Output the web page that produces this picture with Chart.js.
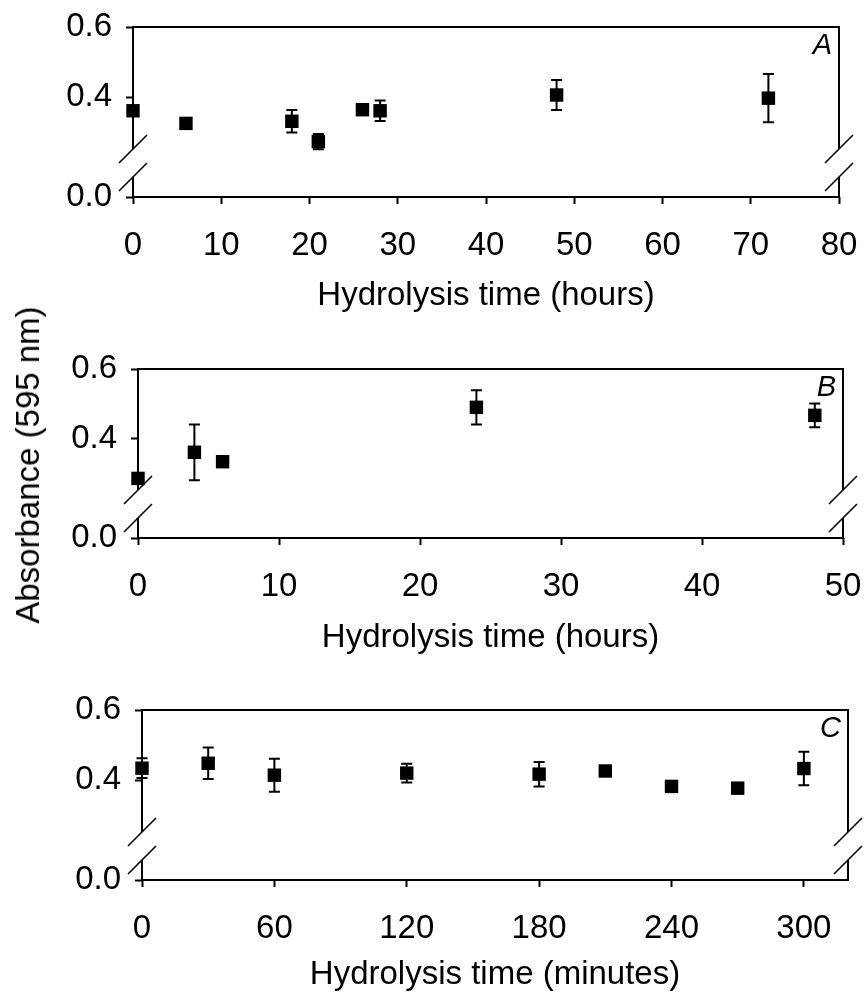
<!DOCTYPE html>
<html>
<head>
<meta charset="utf-8">
<script src="https://cdn.jsdelivr.net/npm/chart.js@4"></script>
<style>
  body { margin: 0; background: #fff; }
  #page { position: relative; width: 868px; height: 1001px; }
  canvas { position: absolute; left: 0; }
  #yTitle {
    position: absolute; left: 28px; top: 465px;
    transform: translate(-50%, -50%) rotate(-90deg);
    font: 33px 'Liberation Sans', Arial, sans-serif; white-space: nowrap; color: #000;
  }
</style>
</head>
<body>
<div id="page">
  <canvas id="chartA" width="868" height="330" style="top:0"></canvas>
  <canvas id="chartB" width="868" height="345" style="top:330px"></canvas>
  <canvas id="chartC" width="868" height="326" style="top:675px"></canvas>
  <div id="yTitle">Absorbance (595 nm)</div>
</div>
<script>
// panel A, hours
const hoursA = [0, 6, 18, 21, 26, 28, 48, 72];
const absA = [0.361, 0.325, 0.331, 0.273, 0.364, 0.361, 0.406, 0.397];
const errA = [0, 0, 0.032, 0.022, 0.006, 0.029, 0.043, 0.069];
const xTicksA = [0, 10, 20, 30, 40, 50, 60, 70, 80];

// panel B, hours
const hoursB = [0, 4, 6, 24, 48];
const absB = [0.286, 0.361, 0.334, 0.49, 0.467];
const errB = [0, 0.08, 0, 0.049, 0.034];
const xTicksB = [0, 10, 20, 30, 40, 50];

// panel C, minutes
const minutesC = [0, 30, 60, 120, 180, 210, 240, 270, 300];
const absC = [0.434, 0.448, 0.414, 0.42, 0.417, 0.426, 0.382, 0.377, 0.433];
const errC = [0.028, 0.045, 0.047, 0.027, 0.035, 0.01, 0.01, 0, 0.048];
const xTicksC = [0, 60, 120, 180, 240, 300];

// broken y axis: the bottom of the axis stands for 0.0
const Y_BREAK = 0.115;
const yTickValues = [Y_BREAK, 0.4, 0.6];
const yTickLabels = ['0.0', '0.4', '0.6'];

Chart.defaults.font.family = "'Liberation Sans', Arial, sans-serif";
Chart.defaults.color = '#000';

const brokenFrame = {
    id: 'brokenFrame',
    beforeDatasetsDraw(chart, args, opts) {
        const { ctx } = chart;
        const { left, right, top, bottom } = chart.chartArea;
        const line = (x1, y1, x2, y2) => { ctx.moveTo(x1, y1); ctx.lineTo(x2, y2); };
        ctx.save();
        ctx.strokeStyle = '#000';
        ctx.lineWidth = 2;
        ctx.beginPath();
        line(left, top, right, top);
        line(left - 1, bottom, right + 1, bottom);
        [left, right].forEach(x => {
            line(x, top - 1, x, bottom - 48);
            line(x, bottom - 20, x, bottom);
        });
        ctx.stroke();
        ctx.lineWidth = 1.6;
        ctx.beginPath();
        [left, right].forEach(x => {
            [bottom - 48, bottom - 20].forEach(y => line(x - 14, y + 14, x + 14, y - 14));
        });
        ctx.stroke();
        ctx.fillStyle = '#000';
        ctx.font = "italic 29px 'Liberation Sans', Arial, sans-serif";
        ctx.textAlign = 'right';
        ctx.textBaseline = 'middle';
        ctx.fillText(opts.letter, right - 7, top + 19);
        ctx.restore();
    }
};

const errorBars = {
    id: 'errorBars',
    afterDatasetsDraw(chart) {
        const { ctx, scales: { x, y } } = chart;
        const ds = chart.data.datasets[0];
        ctx.save();
        ctx.strokeStyle = '#000';
        ctx.lineWidth = 2;
        ds.data.forEach((p, i) => {
            const e = ds.errors[i];
            if (!e) return;
            const px = x.getPixelForValue(p.x);
            const hi = y.getPixelForValue(p.y + e);
            const lo = y.getPixelForValue(p.y - e);
            ctx.beginPath();
            ctx.moveTo(px, hi); ctx.lineTo(px, lo);
            ctx.moveTo(px - 5.5, hi); ctx.lineTo(px + 5.5, hi);
            ctx.moveTo(px - 5.5, lo); ctx.lineTo(px + 5.5, lo);
            ctx.stroke();
        });
        ctx.restore();
    }
};

const makePanel = (id, xs, ys, errs, xTicks, xMax, xTitle, letter, box) => {
    new Chart(document.getElementById(id), {
        type: 'scatter',
        data: {
            datasets: [{
                data: xs.map((x, i) => ({ x, y: ys[i] })),
                errors: errs,
                pointStyle: 'rect',
                pointRadius: 9.5,
                backgroundColor: '#000',
                borderColor: '#000',
                borderWidth: 0,
                clip: false
            }]
        },
        options: {
            responsive: false,
            animation: false,
            events: [],
            layout: { autoPadding: false, padding: { top: box.top, right: box.right, left: 0, bottom: 0 } },
            plugins: {
                legend: { display: false },
                tooltip: { enabled: false },
                brokenFrame: { letter }
            },
            scales: {
                x: {
                    type: 'linear', min: 0, max: xMax,
                    afterBuildTicks: s => { s.ticks = xTicks.map(v => ({ value: v })); },
                    afterFit: s => { s.height = box.xHeight; s.paddingLeft = 0; s.paddingRight = 0; },
                    border: { display: false },
                    grid: { drawOnChartArea: false, tickLength: 7, tickWidth: 2, tickColor: '#000' },
                    ticks: { padding: 22, font: { size: 33 }, maxRotation: 0, autoSkip: false },
                    title: { display: true, text: xTitle, font: { size: 33 }, padding: { top: 0, bottom: box.titlePad } }
                },
                y: {
                    type: 'linear', min: Y_BREAK, max: 0.6,
                    afterBuildTicks: s => { s.ticks = yTickValues.map(v => ({ value: v })); },
                    afterFit: s => { s.width = box.left; s.paddingTop = 0; s.paddingBottom = 0; },
                    border: { display: false },
                    grid: { drawOnChartArea: false, tickLength: 7, tickWidth: 2, tickColor: '#000' },
                    ticks: { padding: 14, font: { size: 33 }, autoSkip: false, callback: (v, i) => yTickLabels[i] }
                }
            }
        },
        plugins: [brokenFrame, errorBars]
    });
};

makePanel('chartA', hoursA, absA, errA, xTicksA, 80, 'Hydrolysis time (hours)', 'A',
    { top: 27, right: 29, left: 133, xHeight: 133, titlePad: 14 });
makePanel('chartB', hoursB, absB, errB, xTicksB, 50, 'Hydrolysis time (hours)', 'B',
    { top: 39, right: 25, left: 138, xHeight: 137, titlePad: 17 });
makePanel('chartC', minutesC, absC, errC, xTicksC, 320, 'Hydrolysis time (minutes)', 'C',
    { top: 35, right: 20, left: 142, xHeight: 121, titlePad: 6 });
</script>
</body>
</html>
